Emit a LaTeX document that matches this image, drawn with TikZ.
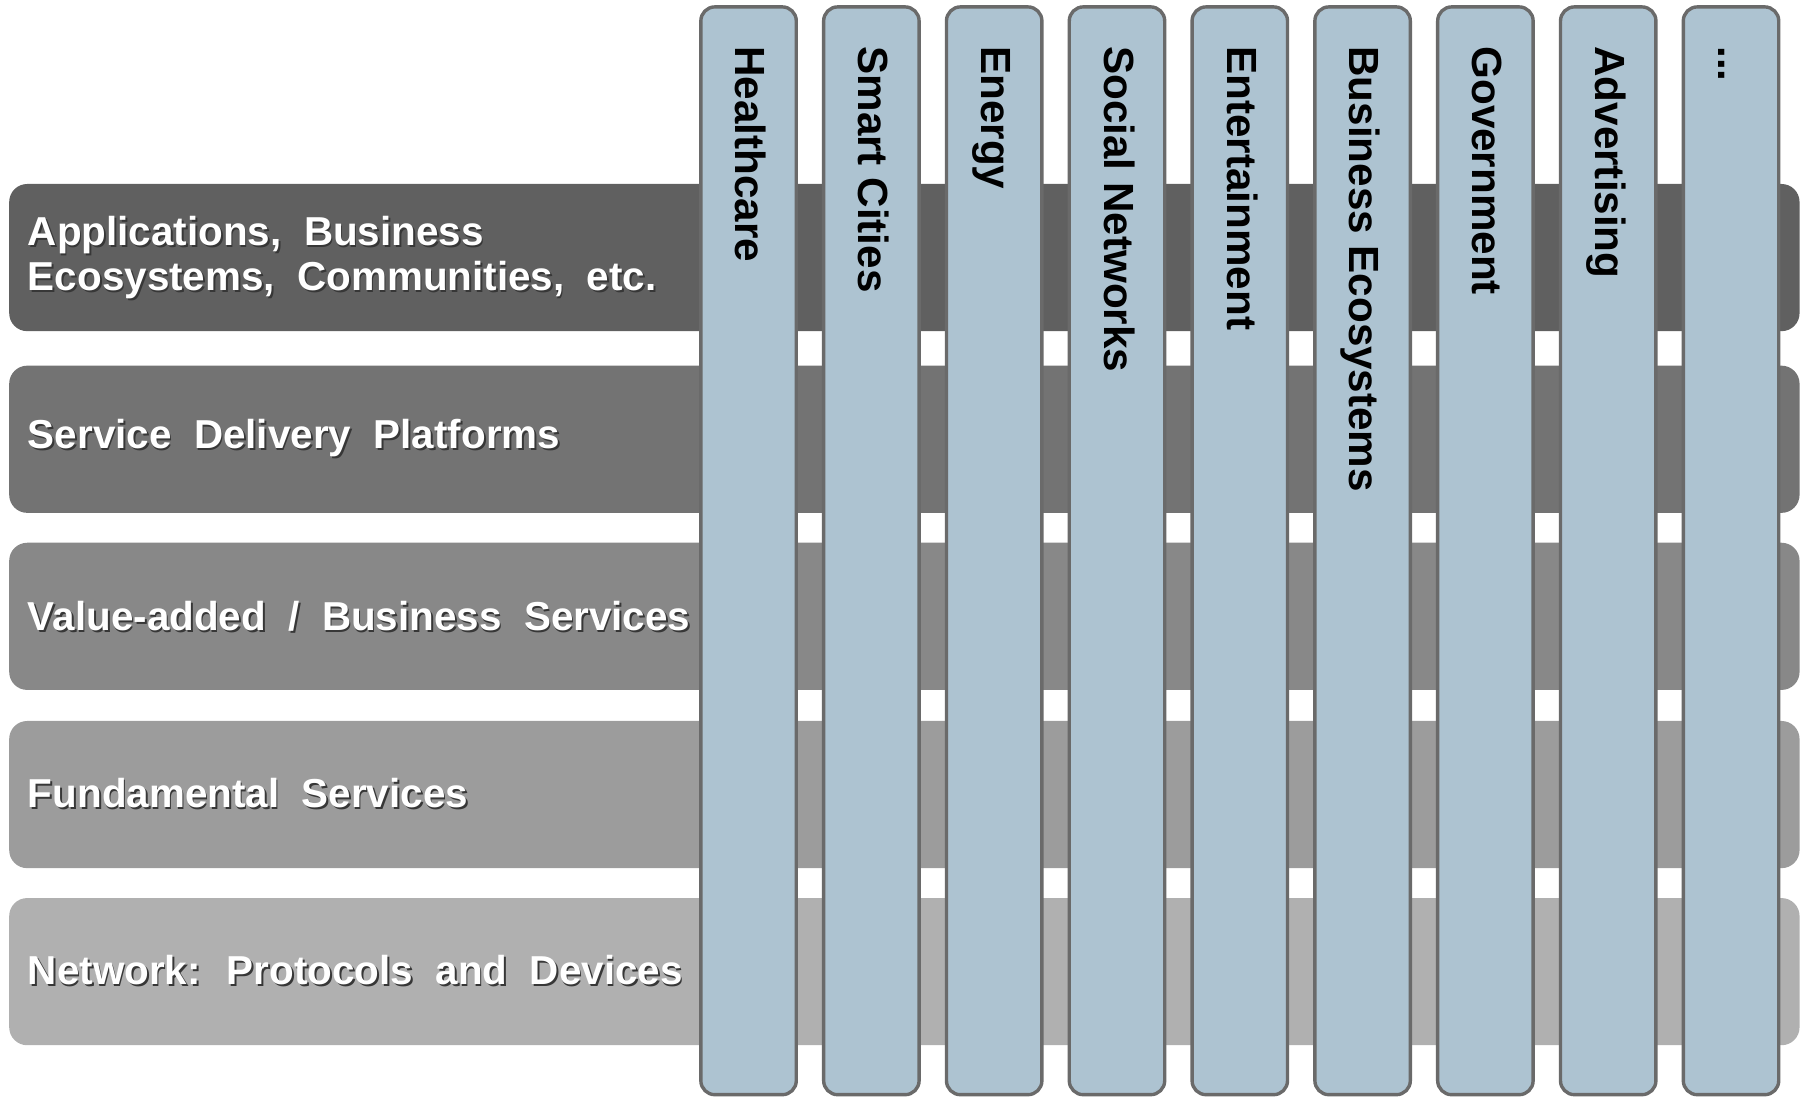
\documentclass[tikz,border=0pt]{standalone}
\usepackage{fontspec}
\setmainfont{Liberation Sans}
\newfontfamily\layerfont[WordSpace=2.0]{Liberation Sans}
\definecolor{mylayerone}{RGB}{96, 96, 96}
\definecolor{mylayertwo}{RGB}{115, 115, 115}
\definecolor{mylayerthree}{RGB}{136, 136, 136}
\definecolor{mylayerfour}{RGB}{156, 156, 156}
\definecolor{mylayerfive}{RGB}{176, 176, 176}
\definecolor{mycolumn}{RGB}{173, 195, 209}
\definecolor{myborder}{RGB}{106, 106, 106}
\definecolor{myshadow}{RGB}{55, 55, 55}

\begin{document}
\begin{tikzpicture}[x=0.575pt, y=-0.575pt,
    layerlabel/.style={anchor=west, inner sep=0pt, text=white, align=left,
        font=\layerfont\bfseries\fontsize{20.2}{22.6}\selectfont},
    shadowlabel/.style={layerlabel, text=myshadow},
    column/.style={fill=mycolumn, draw=myborder, line width=1.7pt, rounded corners=7pt},
    columnlabel/.style={rotate=-90, anchor=base west, inner sep=0pt,
        font=\bfseries\fontsize{21.1}{25}\selectfont}]
        \useasboundingbox (0,0) rectangle (1568,954);

        % Horizontal layers
        \foreach \ytop/\col in {160/mylayerone, 318/mylayertwo, 472/mylayerthree, 627/mylayerfour, 781/mylayerfive}
            \fill[\col, rounded corners=9pt] (8,\ytop) rectangle (1565,\ytop+128);

        % Layer labels (with a soft shadow)
        \foreach \ymid/\txt [count=\i] in {224/{Applications, Business\\Ecosystems, Communities, etc.},
                381/{Service Delivery Platforms}, 536/{Value-added / Business Services},
                690/{Fundamental Services}, 844/{Network: Protocols and Devices}} {
            \node[shadowlabel] (shadow\i) at (25.5,\ymid+1.5) {\txt};
            \node[layerlabel] (layer\i) at (24,\ymid) {\txt};
        }

        % Vertical domains
        \foreach \name [count=\i] in {Healthcare, Smart Cities, Energy, Social Networks, Entertainment,
                Business Ecosystems, Government, Advertising, .{}.{}.} {
            \pgfmathsetmacro{\cx}{651+106.8*(\i-1)}
            \draw[column] (\cx-41.5,6) rectangle (\cx+41.5,952);
            \node[columnlabel] (domain\i) at (\cx-11,40) {\name};
        }
    \end{tikzpicture}
\end{document}
